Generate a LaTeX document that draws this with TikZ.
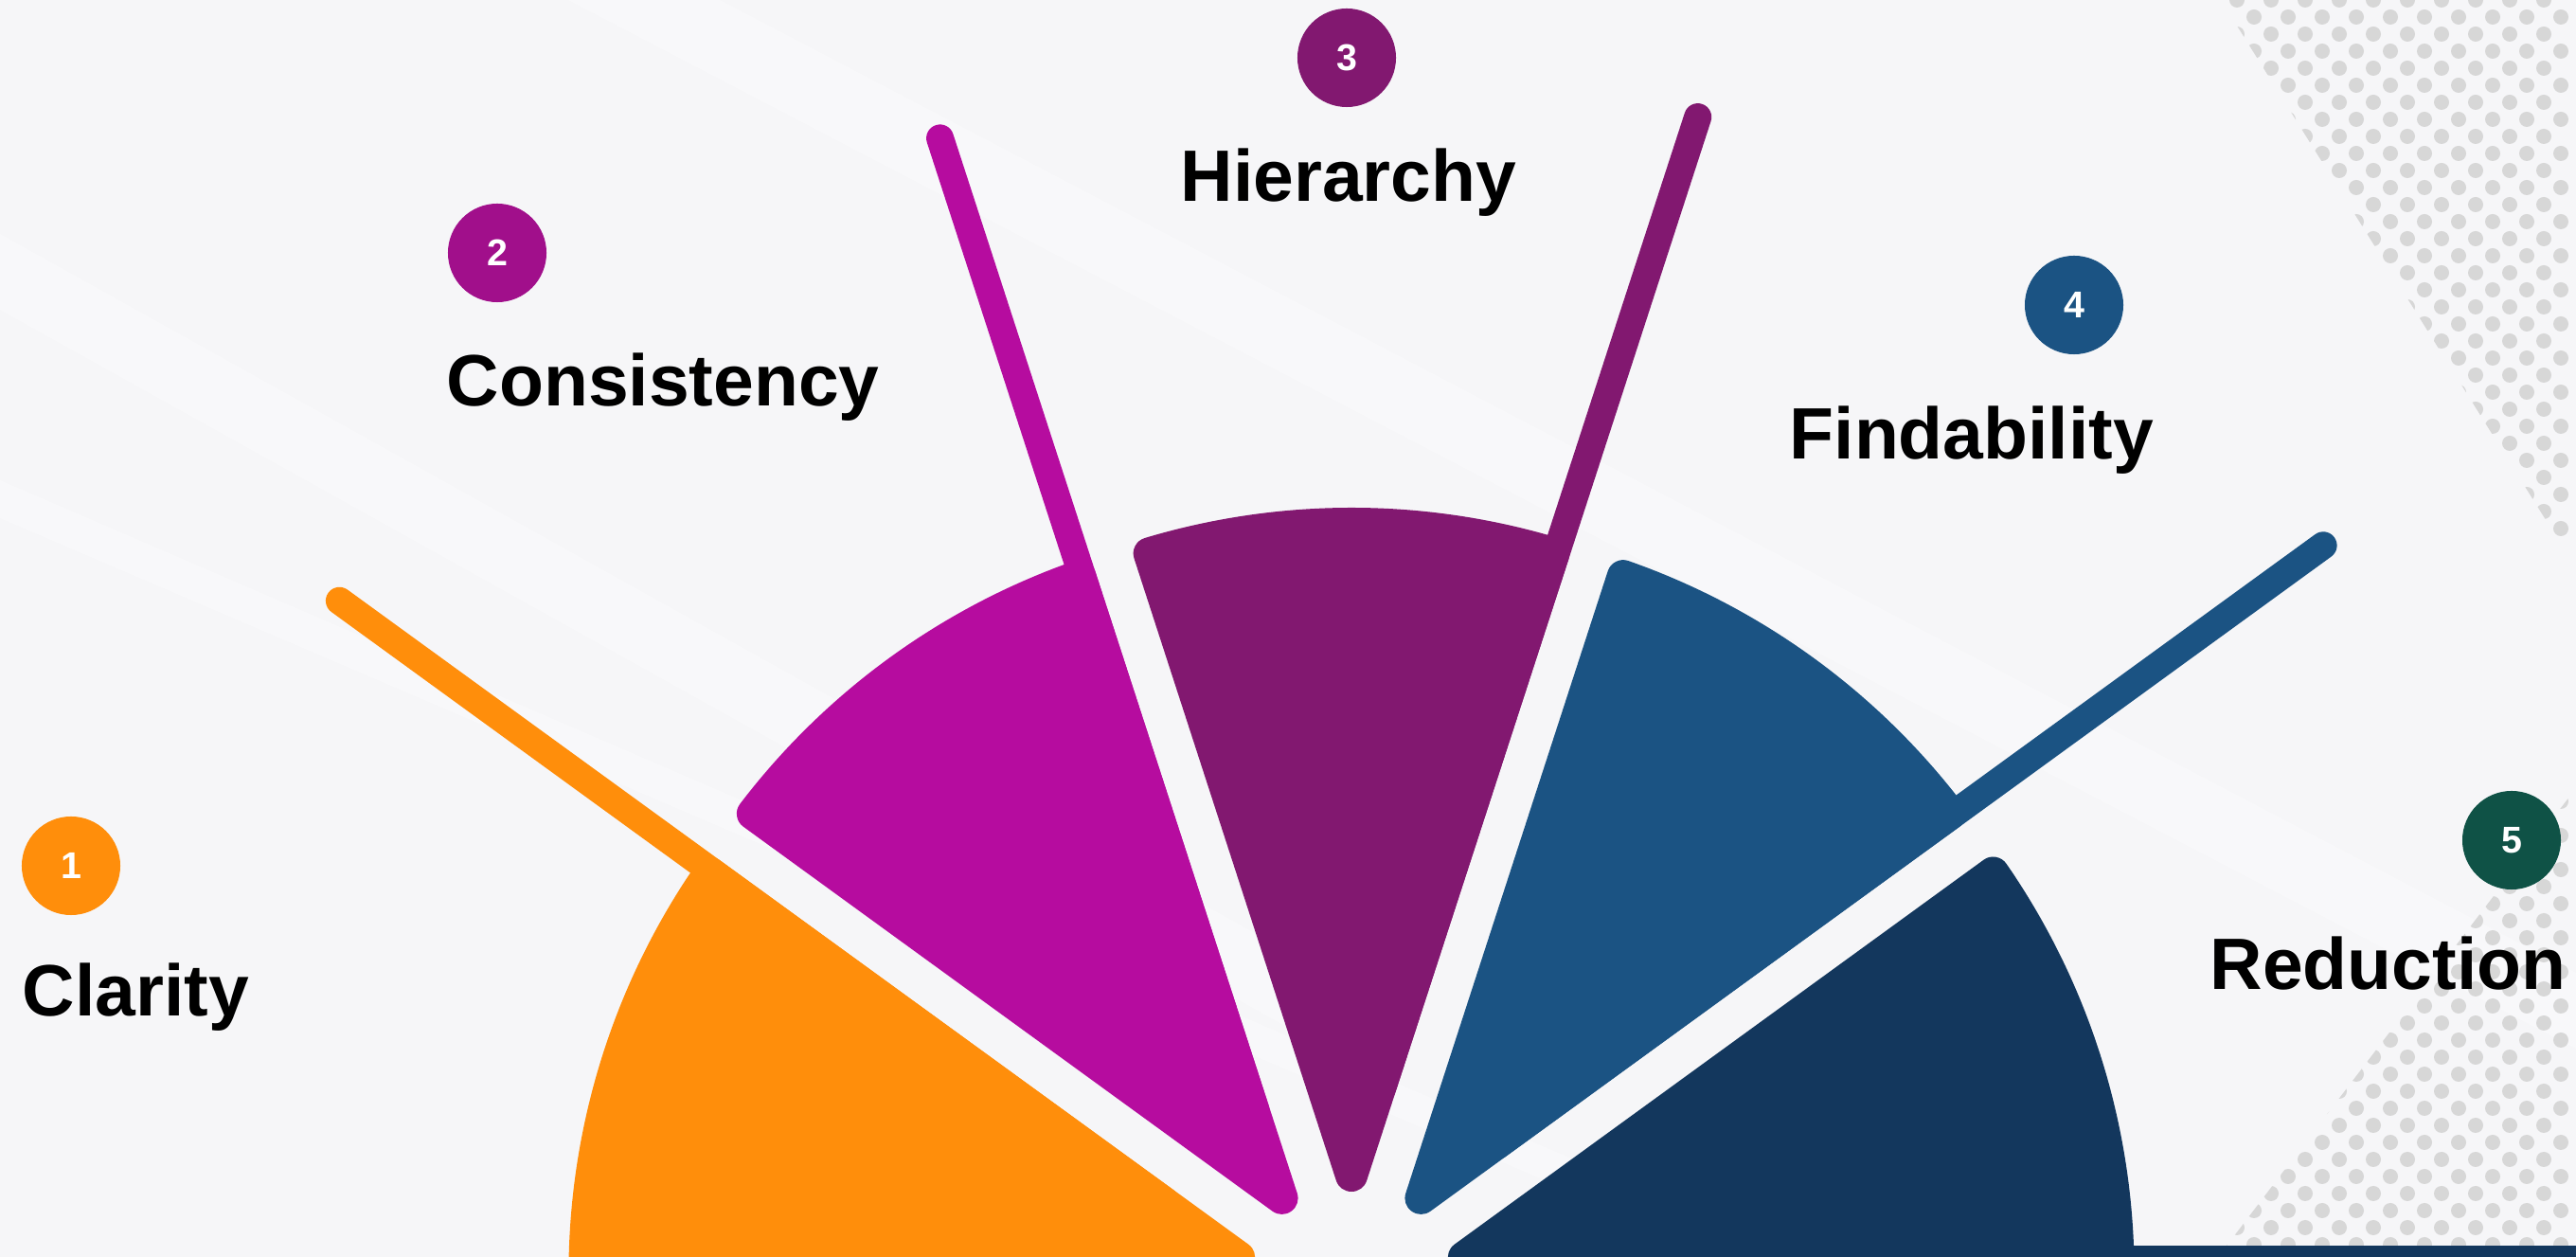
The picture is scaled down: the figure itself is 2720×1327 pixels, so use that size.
\documentclass[tikz,border=0pt]{standalone}
\usepackage{fontspec}
\setmainfont{Liberation Sans}
\usetikzlibrary{calc}
\definecolor{corange}{HTML}{FF8E0B}
\definecolor{cmag}{HTML}{B60C9F}
\definecolor{cpurp}{HTML}{821870}
\definecolor{cblue}{HTML}{1B5383}
\definecolor{cnavy}{HTML}{13375D}
\definecolor{cmagc}{HTML}{A10F8B}
\definecolor{cgreen}{HTML}{0F5246}
\definecolor{bgc}{HTML}{F6F6F8}
\definecolor{dotc}{HTML}{D7D7D7}
\begin{document}
\begin{tikzpicture}[x=0.01cm,y=0.01cm,
  wedge/.style={fill=#1, draw=#1, line width=0.34cm, line join=round},
  stick/.style={draw=#1, line width=0.29cm, line cap=round},
  numdot/.style={circle, fill=#1, minimum size=1.04cm, inner sep=0pt, text=white,
                 font=\bfseries\fontsize{11.2}{13}\selectfont},
  lbl/.style={inner sep=0pt, font=\bfseries\fontsize{21.85}{26}\selectfont},
  band/.style={fill=white, opacity=0.3}]
\useasboundingbox (0,0) rectangle (2720,1327);
\clip (0,0) rectangle (2720,1327);
% background
\fill[bgc] (0,0) rectangle (2720,1327);
\fill[band] (0,1000) -- (0,1080) -- (1400,300) -- (1400,220) -- cycle;
\fill[band] (0,780) -- (0,820) -- (1900,0) -- (1820,0) -- cycle;
\fill[band] (600,1327) -- (760,1327) -- (2720,300) -- (2720,220) -- cycle;
% dot patterns
\begin{scope}
  \clip (2345,1327) -- (2720,1327) -- (2720,727) -- cycle
        (2342,0) -- (2720,495) -- (2720,0) -- cycle;
  \foreach \m in {0,...,74}{
    \foreach \k in {0,...,11}{
      \fill[dotc] ({2290+36*\k+18*mod(\m,2)},{1327-18*\m}) circle (8);
    }
  }
\end{scope}
% fan of wedges
\coordinate (O) at (1427,-39);
\foreach \b/\c [count=\i] in {162/corange,126/cmag,90/cpurp,54/cblue,18/cnavy}{
  \coordinate (A\i) at ($(O)+(\b:70)$);
  \path[wedge=\c] ($(A\i)+(\b:55)$) -- ++(\b-18:690.5)
     arc[start angle=\b-16.689, end angle=\b+16.689, radius=743] -- cycle;
  \coordinate (S\i) at ($(A\i)+(\b-18:150)+(\b+72:14.5)$);
  \coordinate (E\i) at ($(A\i)+(\b-18:1228)+(\b+72:14.5)$);
  \draw[stick=\c] (S\i) -- (E\i);
}
% numbered circles and labels
\node[numdot=corange] (n1) at (75,413) {1};
\node[lbl, anchor=base west] (t1) at (23,254) {Clarity};
\node[numdot=cmagc] (n2) at (525,1060) {2};
\node[lbl, anchor=base west] (t2) at (471,898) {Consistency};
\node[numdot=cpurp] (n3) at (1422,1266) {3};
\node[lbl, anchor=base] (t3) at (1424,1114) {Hierarchy};
\node[numdot=cblue] (n4) at (2190,1005) {4};
\node[lbl, anchor=base west] (t4) at (1889,842) {Findability};
\node[numdot=cgreen] (n5) at (2652,440) {5};
\node[lbl, anchor=base east] (t5) at (2710,282) {Reduction};
\end{tikzpicture}
\end{document}
